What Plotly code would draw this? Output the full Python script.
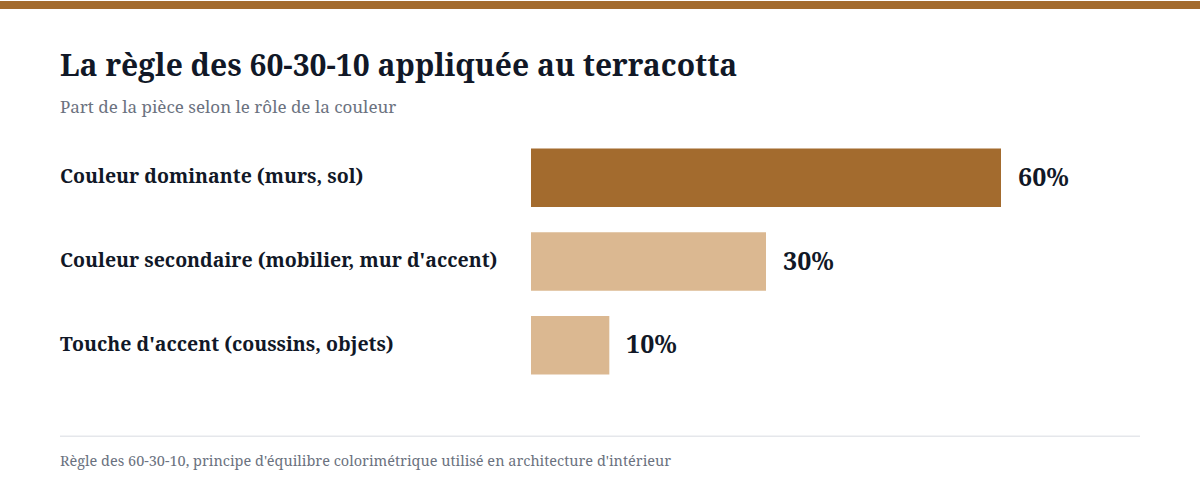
import plotly.graph_objects as go

# data
categories = ["Couleur dominante (murs, sol)",
              "Couleur secondaire (mobilier, mur d'accent)",
              "Touche d'accent (coussins, objets)"]
values = [60, 30, 10]
value_labels = ["60%", "30%", "10%"]
bar_colors = ["#A36B2E", "#DBB891", "#DBB891"]

title = "La règle des 60-30-10 appliquée au terracotta"
subtitle = "Part de la pièce selon le rôle de la couleur"
footer = "Règle des 60-30-10, principe d'équilibre colorimétrique utilisé en architecture d'intérieur"

W, H = 1200, 492
L, R, T, B = 531, 58, 135.5, 104.5
pw, ph = W - L - R, H - T - B

def px(x):  # pixel x -> paper
    return (x - L) / pw

def py(y):  # pixel y -> paper
    return 1 - (y - T) / ph

FONT = "Noto Serif, DejaVu Serif, serif"
DARK = "#111827"
GREY = "#6B7280"

fig = go.Figure()
fig.add_trace(go.Bar(
    x=values, y=categories, orientation="h",
    marker=dict(color=bar_colors, line=dict(width=0)),
    width=0.7, hoverinfo="skip",
))

ann = []
for c, v, t in zip(categories, values, value_labels):
    ann.append(dict(x=px(60), xref="paper", y=c, yref="y", text="<b>%s</b>" % c,
                    showarrow=False, xanchor="left", yanchor="middle", xshift=-2, yshift=2,
                    font=dict(family=FONT, size=19.5, color=DARK)))
    ann.append(dict(x=v, xref="x", y=c, yref="y", text="<b>%s</b>" % t,
                    showarrow=False, xanchor="left", yanchor="middle", xshift=15, yshift=2,
                    font=dict(family=FONT, size=25, color=DARK)))

ann.append(dict(x=px(60), y=py(66), xref="paper", yref="paper", text="<b>%s</b>" % title,
                showarrow=False, xanchor="left", yanchor="middle", xshift=-2, yshift=2,
                font=dict(family=FONT, size=30, color=DARK)))
ann.append(dict(x=px(60), y=py(107), xref="paper", yref="paper", text=subtitle,
                showarrow=False, xanchor="left", yanchor="middle", xshift=-2, yshift=1,
                font=dict(family=FONT, size=17, color=GREY)))
ann.append(dict(x=px(60), y=py(461), xref="paper", yref="paper", text=footer,
                showarrow=False, xanchor="left", yanchor="middle", xshift=-2,
                font=dict(family=FONT, size=14.5, color=GREY)))

shapes = [
    dict(type="rect", xref="paper", yref="paper", x0=px(0), x1=px(W), y0=py(8), y1=py(0),
         fillcolor="#A36B2E", line=dict(width=0), layer="below"),
    dict(type="line", xref="paper", yref="paper", x0=px(60), x1=px(1140), y0=py(437), y1=py(437),
         line=dict(color="#E5E7EB", width=1.5)),
]

fig.update_layout(
    width=W, height=H,
    margin=dict(l=L, r=R, t=T, b=B, pad=0),
    paper_bgcolor="white", plot_bgcolor="white",
    showlegend=False,
    xaxis=dict(range=[0, 78], visible=False, fixedrange=True),
    yaxis=dict(autorange="reversed", visible=False, fixedrange=True),
    annotations=ann, shapes=shapes,
    font=dict(family=FONT),
)

fig.write_html("out.html", config={"displayModeBar": False},
               post_script="document.body.style.margin='0px';")
